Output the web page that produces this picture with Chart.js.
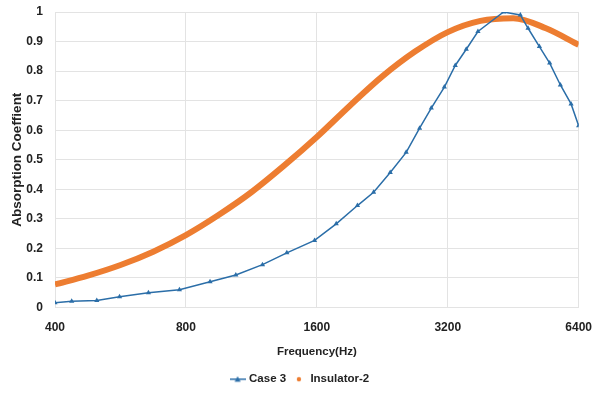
<!DOCTYPE html>
<html>
<head>
<meta charset="utf-8">
<script src="https://cdn.jsdelivr.net/npm/chart.js@4/dist/chart.umd.min.js"></script>
<style>
  html, body { margin: 0; padding: 0; background: #fff; }
  #wrap { width: 592px; height: 395px; position: relative; }
</style>
</head>
<body>
<div id="wrap"><canvas id="c"></canvas></div>
<script>
// case 3 (triangles)
let caseFreq = [400, 437, 499, 563, 656, 773, 909, 1042, 1200, 1365, 1581, 1773, 1984, 2161, 2360, 2568, 2757, 2933, 3143, 3330, 3530, 3755, 4300, 4700, 4896, 5199, 5490, 5810, 6148, 6400];
let caseVals = [0.016, 0.021, 0.024, 0.036, 0.050, 0.060, 0.087, 0.110, 0.145, 0.185, 0.227, 0.283, 0.345, 0.390, 0.457, 0.525, 0.607, 0.675, 0.746, 0.819, 0.874, 0.934, 1.0, 0.990, 0.945, 0.883, 0.827, 0.753, 0.689, 0.615];

// insulator-2 (thick orange)
let insFreq = [400, 476, 566, 673, 800, 951, 1131, 1345, 1600, 1903, 2263, 2691, 3200, 3805, 4525, 5382, 6400];
let insVals = [0.078, 0.108, 0.144, 0.189, 0.245, 0.313, 0.390, 0.480, 0.577, 0.682, 0.782, 0.866, 0.932, 0.970, 0.979, 0.945, 0.889];

let xTicks = [400, 800, 1600, 3200, 6400];

let blue = '#2b6ea8';
let orange = '#ed7d31';
let fontFam = '"Liberation Sans", Arial, sans-serif';

function pts(xs, ys) {
  return xs.map((x, i) => ({x: x, y: ys[i]}));
}

// legend icon: short line with triangle in the middle
function lineIcon() {
  let cv = document.createElement('canvas');
  cv.width = 16; cv.height = 8;
  let g = cv.getContext('2d');
  g.strokeStyle = blue; g.lineWidth = 1.5;
  g.beginPath(); g.moveTo(0, 4); g.lineTo(16, 4); g.stroke();
  g.fillStyle = blue;
  g.beginPath(); g.moveTo(8, 1); g.lineTo(11, 6.5); g.lineTo(5, 6.5); g.closePath(); g.fill();
  return cv;
}
function dotIcon() {
  let cv = document.createElement('canvas');
  cv.width = 8; cv.height = 8;
  let g = cv.getContext('2d');
  g.fillStyle = orange;
  g.beginPath(); g.arc(4, 4, 2.2, 0, Math.PI * 2); g.fill();
  return cv;
}

let chart = new Chart(document.getElementById('c'), {
  type: 'line',
  data: {
    datasets: [
      {
        label: 'Case 3',
        data: pts(caseFreq, caseVals),
        borderColor: blue,
        backgroundColor: blue,
        borderWidth: 1.5,
        pointStyle: 'triangle',
        pointRadius: 3,
        pointBorderWidth: 0,
        tension: 0
      },
      {
        label: 'Insulator-2',
        data: pts(insFreq, insVals),
        borderColor: orange,
        backgroundColor: orange,
        borderWidth: 6,
        pointRadius: 0,
        cubicInterpolationMode: 'monotone'
      }
    ]
  },
  options: {
    responsive: true,
    maintainAspectRatio: false,
    animation: false,
    layout: { padding: { top: 12, right: 0, left: 9, bottom: 0 } },
    scales: {
      x: {
        type: 'logarithmic',
        min: 400,
        max: 6400,
        afterBuildTicks: s => { s.ticks = xTicks.map(v => ({value: v})); },
        afterFit: s => { s.height = 59; },
        grid: { color: '#e3e3e3', drawTicks: true, tickLength: 13, tickColor: 'rgba(0,0,0,0)' },
        border: { display: false },
        ticks: {
          color: '#222',
          padding: 0,
          font: { family: fontFam, size: 12, weight: 'bold' },
          callback: v => String(v)
        },
        title: {
          display: true,
          text: 'Frequency(Hz)',
          color: '#222',
          padding: { top: 0, bottom: 8 },
          font: { family: fontFam, size: 11.5, weight: 'bold' }
        }
      },
      y: {
        min: 0,
        max: 1,
        afterFit: s => { s.width = 46; },
        ticks: {
          stepSize: 0.1,
          color: '#222',
          padding: 0,
          font: { family: fontFam, size: 12, weight: 'bold' },
          callback: v => String(+v.toFixed(1))
        },
        grid: { color: '#e3e3e3', drawTicks: true, tickLength: 12, tickColor: 'rgba(0,0,0,0)' },
        border: { display: false },
        title: {
          display: true,
          text: 'Absorption Coeffient',
          color: '#222',
          padding: { top: 0, bottom: 0 },
          font: { family: fontFam, size: 13.5, weight: 'bold' }
        }
      }
    },
    plugins: {
      tooltip: { enabled: false },
      legend: {
        position: 'bottom',
        labels: {
          usePointStyle: true,
          color: '#222',
          padding: 7,
          font: { family: fontFam, size: 11.5, weight: 'bold' },
          generateLabels: ch => ch.data.datasets.map((d, i) => ({
            text: d.label,
            pointStyle: i === 0 ? lineIcon() : dotIcon(),
            fillStyle: d.borderColor,
            strokeStyle: d.borderColor,
            lineWidth: 0,
            fontColor: '#222',
            datasetIndex: i
          }))
        }
      }
    }
  }
});
</script>
</body>
</html>
